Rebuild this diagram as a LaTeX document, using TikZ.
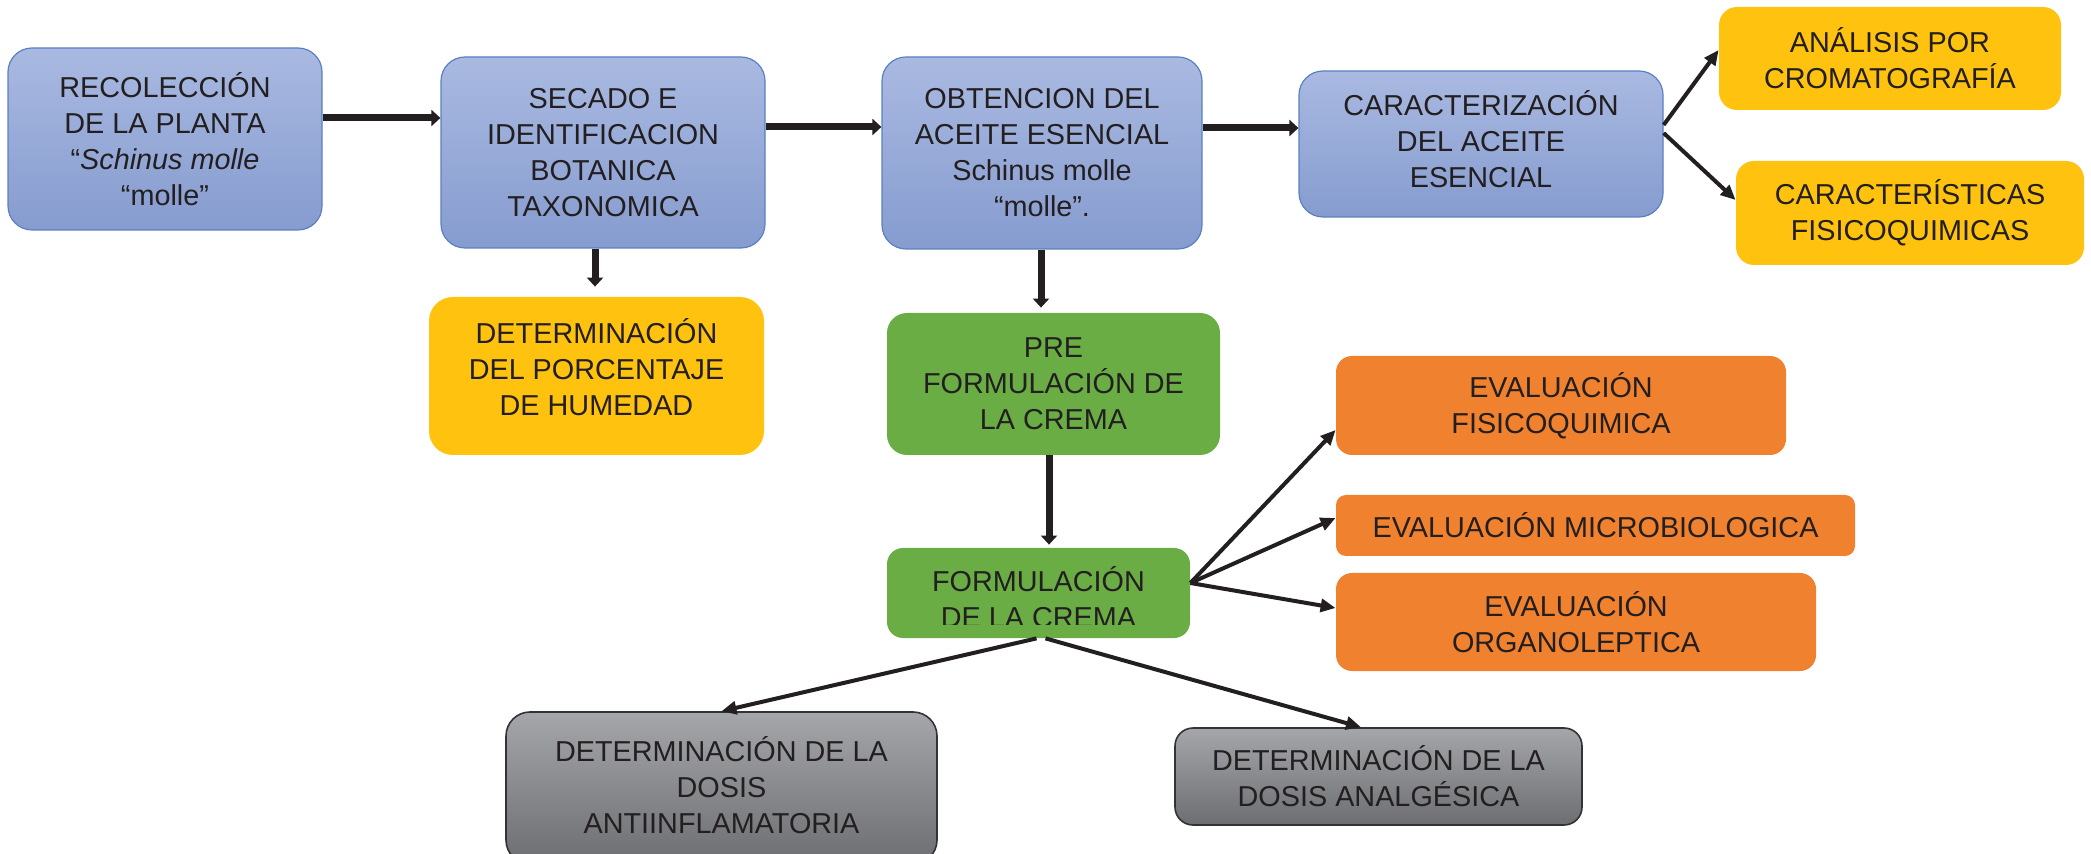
\documentclass[tikz,border=0pt]{standalone}
\usepackage{fontspec}
\setmainfont{Liberation Sans}
\usetikzlibrary{positioning,arrows.meta}

\definecolor{inktext}{HTML}{231F20}
\definecolor{inkline}{HTML}{231F20}
\definecolor{bluetop}{HTML}{A9B9E1}
\definecolor{bluebot}{HTML}{869CCF}
\definecolor{blueline}{HTML}{5A80C2}
\definecolor{yellowbox}{HTML}{FFC20E}
\definecolor{greenbox}{HTML}{6AAD45}
\definecolor{orangebox}{HTML}{F0812F}
\definecolor{graytop}{HTML}{A4A6A9}
\definecolor{graybot}{HTML}{6C6E71}
\definecolor{grayline}{HTML}{333333}

\begin{document}
\begin{tikzpicture}[x=0.5pt,y=-0.5pt,
  box/.style={rounded corners=12pt,align=center,text=inktext,inner sep=0pt,
    font=\fontsize{14.4}{18}\selectfont},
  bluebox/.style={box,draw=blueline,line width=0.6pt,top color=bluetop,bottom color=bluebot},
  yellowfill/.style={box,fill=yellowbox},
  greenfill/.style={box,fill=greenbox},
  orangefill/.style={box,fill=orangebox,rounded corners=8pt},
  graybox/.style={box,draw=grayline,line width=0.8pt,top color=graytop,bottom color=graybot},
  thickarrow/.style={draw=inkline,line width=3.5pt,-{Triangle[length=4.5pt,width=8pt]}},
  thinarrow/.style={draw=inkline,line width=2pt,-{Triangle[length=7.5pt,width=6.5pt]}},
]
\clip (0,0) rectangle (2091,854);
%% top row
\node[bluebox,minimum width=157pt,minimum height=91pt] (recol) at (165,139)
  {RECOLECCIÓN\\DE LA PLANTA\\“\textit{Schinus molle}\\“molle”};
\node[bluebox,minimum width=162pt,minimum height=95.5pt] (secado) at (603,152.5)
  {SECADO E\\IDENTIFICACION\\BOTANICA\\TAXONOMICA};
\node[bluebox,minimum width=160pt,minimum height=96pt] (obten) at (1042,153)
  {OBTENCION DEL\\ACEITE ESENCIAL\\Schinus molle\\“molle”.};
\node[bluebox,minimum width=182pt,minimum height=73pt,text depth=5pt] (carac) at (1481,144)
  {CARACTERIZACIÓN\\DEL ACEITE\\ESENCIAL};
\node[yellowfill,rounded corners=9pt,minimum width=171pt,minimum height=51.5pt] (analisis) at (1890,58.5)
  {ANÁLISIS POR\\CROMATOGRAFÍA};
\node[yellowfill,rounded corners=9pt,minimum width=174pt,minimum height=52pt] (fisicoq) at (1910,213)
  {CARACTERÍSTICAS\\FISICOQUIMICAS};
%% middle
\node[yellowfill,minimum width=167.5pt,minimum height=79pt,text depth=9pt] (humedad) at (596.5,376)
  {DETERMINACIÓN\\DEL PORCENTAJE\\DE HUMEDAD};
\node[greenfill,rounded corners=10pt,minimum width=166.5pt,minimum height=71pt] (prefor) at (1053.5,384)
  {PRE\\FORMULACIÓN DE\\LA CREMA};
\node[greenfill,rounded corners=8pt,minimum width=151.5pt,minimum height=45pt,
  path picture={
    \clip (path picture bounding box.north west) rectangle ([yshift=7pt]path picture bounding box.south east);
    \node[align=center,text=inktext,font=\fontsize{14.4}{18}\selectfont]
      at ([yshift=-2.25pt]path picture bounding box.center) {FORMULACIÓN\\DE LA CREMA};
  }] (formul) at (1038.5,593) {};
%% evaluations
\node[orangefill,minimum width=225pt,minimum height=49.5pt] (evfis) at (1561,405.5)
  {EVALUACIÓN\\FISICOQUIMICA};
\node[orangefill,rounded corners=5pt,minimum width=259.5pt,minimum height=30.5pt] (evmic) at (1595.5,525.5)
  {EVALUACIÓN MICROBIOLOGICA};
\node[orangefill,minimum width=240pt,minimum height=49pt] (evorg) at (1576,622)
  {EVALUACIÓN\\ORGANOLEPTICA};
%% dosis
\node[graybox,minimum width=215.5pt,minimum height=76pt,text depth=3pt] (antiinf) at (721.5,788)
  {DETERMINACIÓN DE LA\\DOSIS\\ANTIINFLAMATORIA};
\node[graybox,rounded corners=9pt,minimum width=203.5pt,minimum height=48.5pt] (analg) at (1378.5,776.5)
  {DETERMINACIÓN DE LA\\DOSIS ANALGÉSICA};
%
\draw[thickarrow] ([yshift=10.5pt]recol.east) -- ([yshift=10.5pt]recol.east -| secado.west);
\draw[thickarrow] ([yshift=12.75pt]secado.east) -- ([yshift=12.75pt]secado.east -| obten.west);
\draw[thickarrow] ([yshift=12.5pt]obten.east) -- ([yshift=12.5pt]obten.east -| carac.west);
\draw[thickarrow,shorten >=5pt] ([xshift=-4pt]secado.south) -- ([xshift=-4pt]secado.south |- humedad.north);
\draw[thickarrow,shorten >=2.5pt] ([xshift=-0.5pt]obten.south) -- ([xshift=-0.5pt]obten.south |- prefor.north);
\draw[thickarrow,shorten >=1.5pt] ([xshift=-2.25pt]prefor.south) -- ([xshift=-2.25pt]prefor.south |- formul.north);
\draw[thinarrow] ([yshift=9.5pt]carac.east) -- ([yshift=4.25pt]analisis.west);
\draw[thinarrow] ([yshift=5.5pt]carac.east) -- ([yshift=6.5pt]fisicoq.west);
\draw[thinarrow] ([yshift=5pt]formul.east) -- ([yshift=-12.25pt]evfis.west);
\draw[thinarrow] ([yshift=5pt]formul.east) -- ([yshift=3.75pt]evmic.west);
\draw[thinarrow] ([yshift=5pt]formul.east) -- ([yshift=7pt]evorg.west);
\draw[thinarrow] ([xshift=-1pt]formul.south) -- (antiinf.north);
\draw[thinarrow] ([xshift=3.5pt]formul.south) -- ([xshift=-8.75pt]analg.north);
%
\end{tikzpicture}
\end{document}
